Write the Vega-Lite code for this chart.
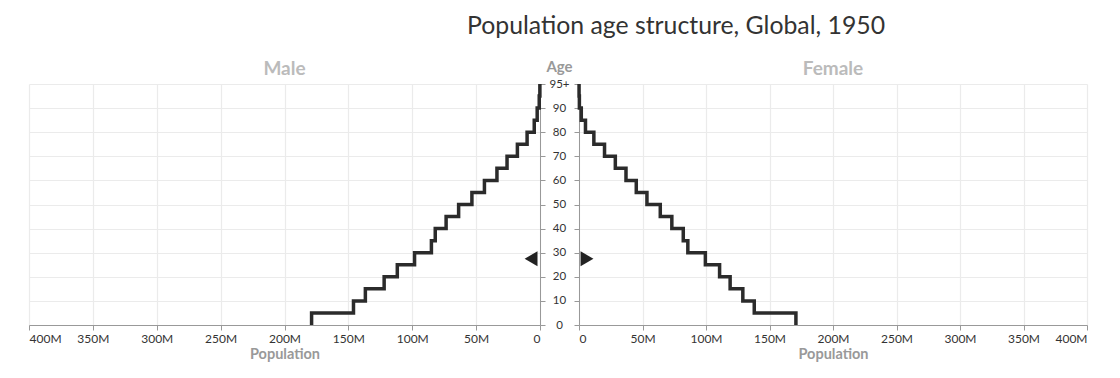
{
  "$schema": "https://vega.github.io/schema/vega-lite/v6.json",
  "padding": {"left": 28, "top": 14, "right": 5, "bottom": 5},
  "background": "white",
  "title": {"text": "Population age structure, Global, 1950", "fontSize": 24.8, "font": "Lato", "fontWeight": "normal", "color": "#333", "anchor": "middle", "dx": 118, "offset": 20},
  "config": {
    "font": "Lato",
    "view": {"stroke": null},
    "axis": {"gridColor": "#ebebeb", "gridWidth": 1.2, "domainColor": "#999", "tickColor": "#999", "labelColor": "#333", "labelFontSize": 12, "titleColor": "#999", "titleFontSize": 14.5, "titleFontWeight": "bold", "tickSize": 5},
    "title": {"color": "#bbb", "fontSize": 19, "fontWeight": "bold"}
  },
  "datasets": {
    "pop": [
      {"age": 0, "male": 178800000, "female": 170800000},
      {"age": 5, "male": 146000000, "female": 138000000},
      {"age": 10, "male": 136700000, "female": 129000000},
      {"age": 15, "male": 122000000, "female": 119000000},
      {"age": 20, "male": 111700000, "female": 110700000},
      {"age": 25, "male": 98200000, "female": 99500000},
      {"age": 30, "male": 85000000, "female": 85700000},
      {"age": 35, "male": 82000000, "female": 82100000},
      {"age": 40, "male": 73500000, "female": 73100000},
      {"age": 45, "male": 63700000, "female": 64000000},
      {"age": 50, "male": 53300000, "female": 53500000},
      {"age": 55, "male": 43500000, "female": 45100000},
      {"age": 60, "male": 33700000, "female": 37000000},
      {"age": 65, "male": 25800000, "female": 28600000},
      {"age": 70, "male": 17700000, "female": 20100000},
      {"age": 75, "male": 10100000, "female": 11700000},
      {"age": 80, "male": 4500000, "female": 5100000},
      {"age": 85, "male": 2200000, "female": 1800000},
      {"age": 90, "male": 600000, "female": 300000},
      {"age": 95, "male": 100000, "female": 50000},
      {"age": 100, "male": 100000, "female": 50000}
    ],
    "handle": [{"age": 27.5, "male": 7000000, "female": 6300000}]
  },
  "spacing": 39,
  "bounds": "flush",
  "hconcat": [
    {
      "width": 511,
      "height": 241,
      "title": {"text": "Male", "offset": -2},
      "encoding": {
        "x": {"field": "male", "type": "quantitative", "scale": {"domain": [0, 400000000], "reverse": true, "nice": false}, "axis": {"labelExpr": "datum.value == 0 ? '0' : format(datum.value, '~s')", "values": [0, 50000000, 100000000, 150000000, 200000000, 250000000, 300000000, 350000000, 400000000], "title": "Population", "labelPadding": 3, "titlePadding": 3}},
        "y": {"field": "age", "type": "quantitative", "scale": {"domain": [0, 100], "nice": false}, "axis": {"orient": "right", "labels": false, "title": null, "values": [0, 10, 20, 30, 40, 50, 60, 70, 80, 90, 100]}}
      },
      "layer": [
        {
          "data": {"name": "pop"},
          "mark": {"type": "line", "interpolate": "step-before", "color": "#2b2b2b", "strokeWidth": 3.5},
          "encoding": {"order": {"field": "age"}}
        },
        {
          "data": {"name": "handle"},
          "mark": {"type": "point", "shape": "triangle-left", "filled": true, "color": "#222", "size": 220, "opacity": 1}
        }
      ]
    },
    {
      "width": 508,
      "height": 241,
      "title": {"text": "Female", "offset": -20},
      "encoding": {
        "x": {"field": "female", "type": "quantitative", "scale": {"domain": [0, 400000000], "nice": false}, "axis": {"labelExpr": "datum.value == 0 ? '0' : format(datum.value, '~s')", "values": [0, 50000000, 100000000, 150000000, 200000000, 250000000, 300000000, 350000000, 400000000], "title": "Population", "labelPadding": 3, "titlePadding": 3}},
        "y": {"field": "age", "type": "quantitative", "scale": {"domain": [0, 100], "nice": false}, "axis": {"orient": "left", "title": "Age", "titleFontSize": 15, "titleAngle": 0, "titleAlign": "center", "titleBaseline": "bottom", "titleX": -20, "titleY": -10, "labelAlign": "center", "labelFontSize": 11.5, "labelPadding": 15, "values": [0, 10, 20, 30, 40, 50, 60, 70, 80, 90, 100], "labelExpr": "datum.value == 100 ? '95+' : datum.value"}}
      },
      "layer": [
        {
          "data": {"name": "pop"},
          "mark": {"type": "line", "interpolate": "step-before", "color": "#2b2b2b", "strokeWidth": 3.5},
          "encoding": {"order": {"field": "age"}}
        },
        {
          "data": {"name": "handle"},
          "mark": {"type": "point", "shape": "triangle-right", "filled": true, "color": "#222", "size": 220, "opacity": 1}
        }
      ]
    }
  ]
}
